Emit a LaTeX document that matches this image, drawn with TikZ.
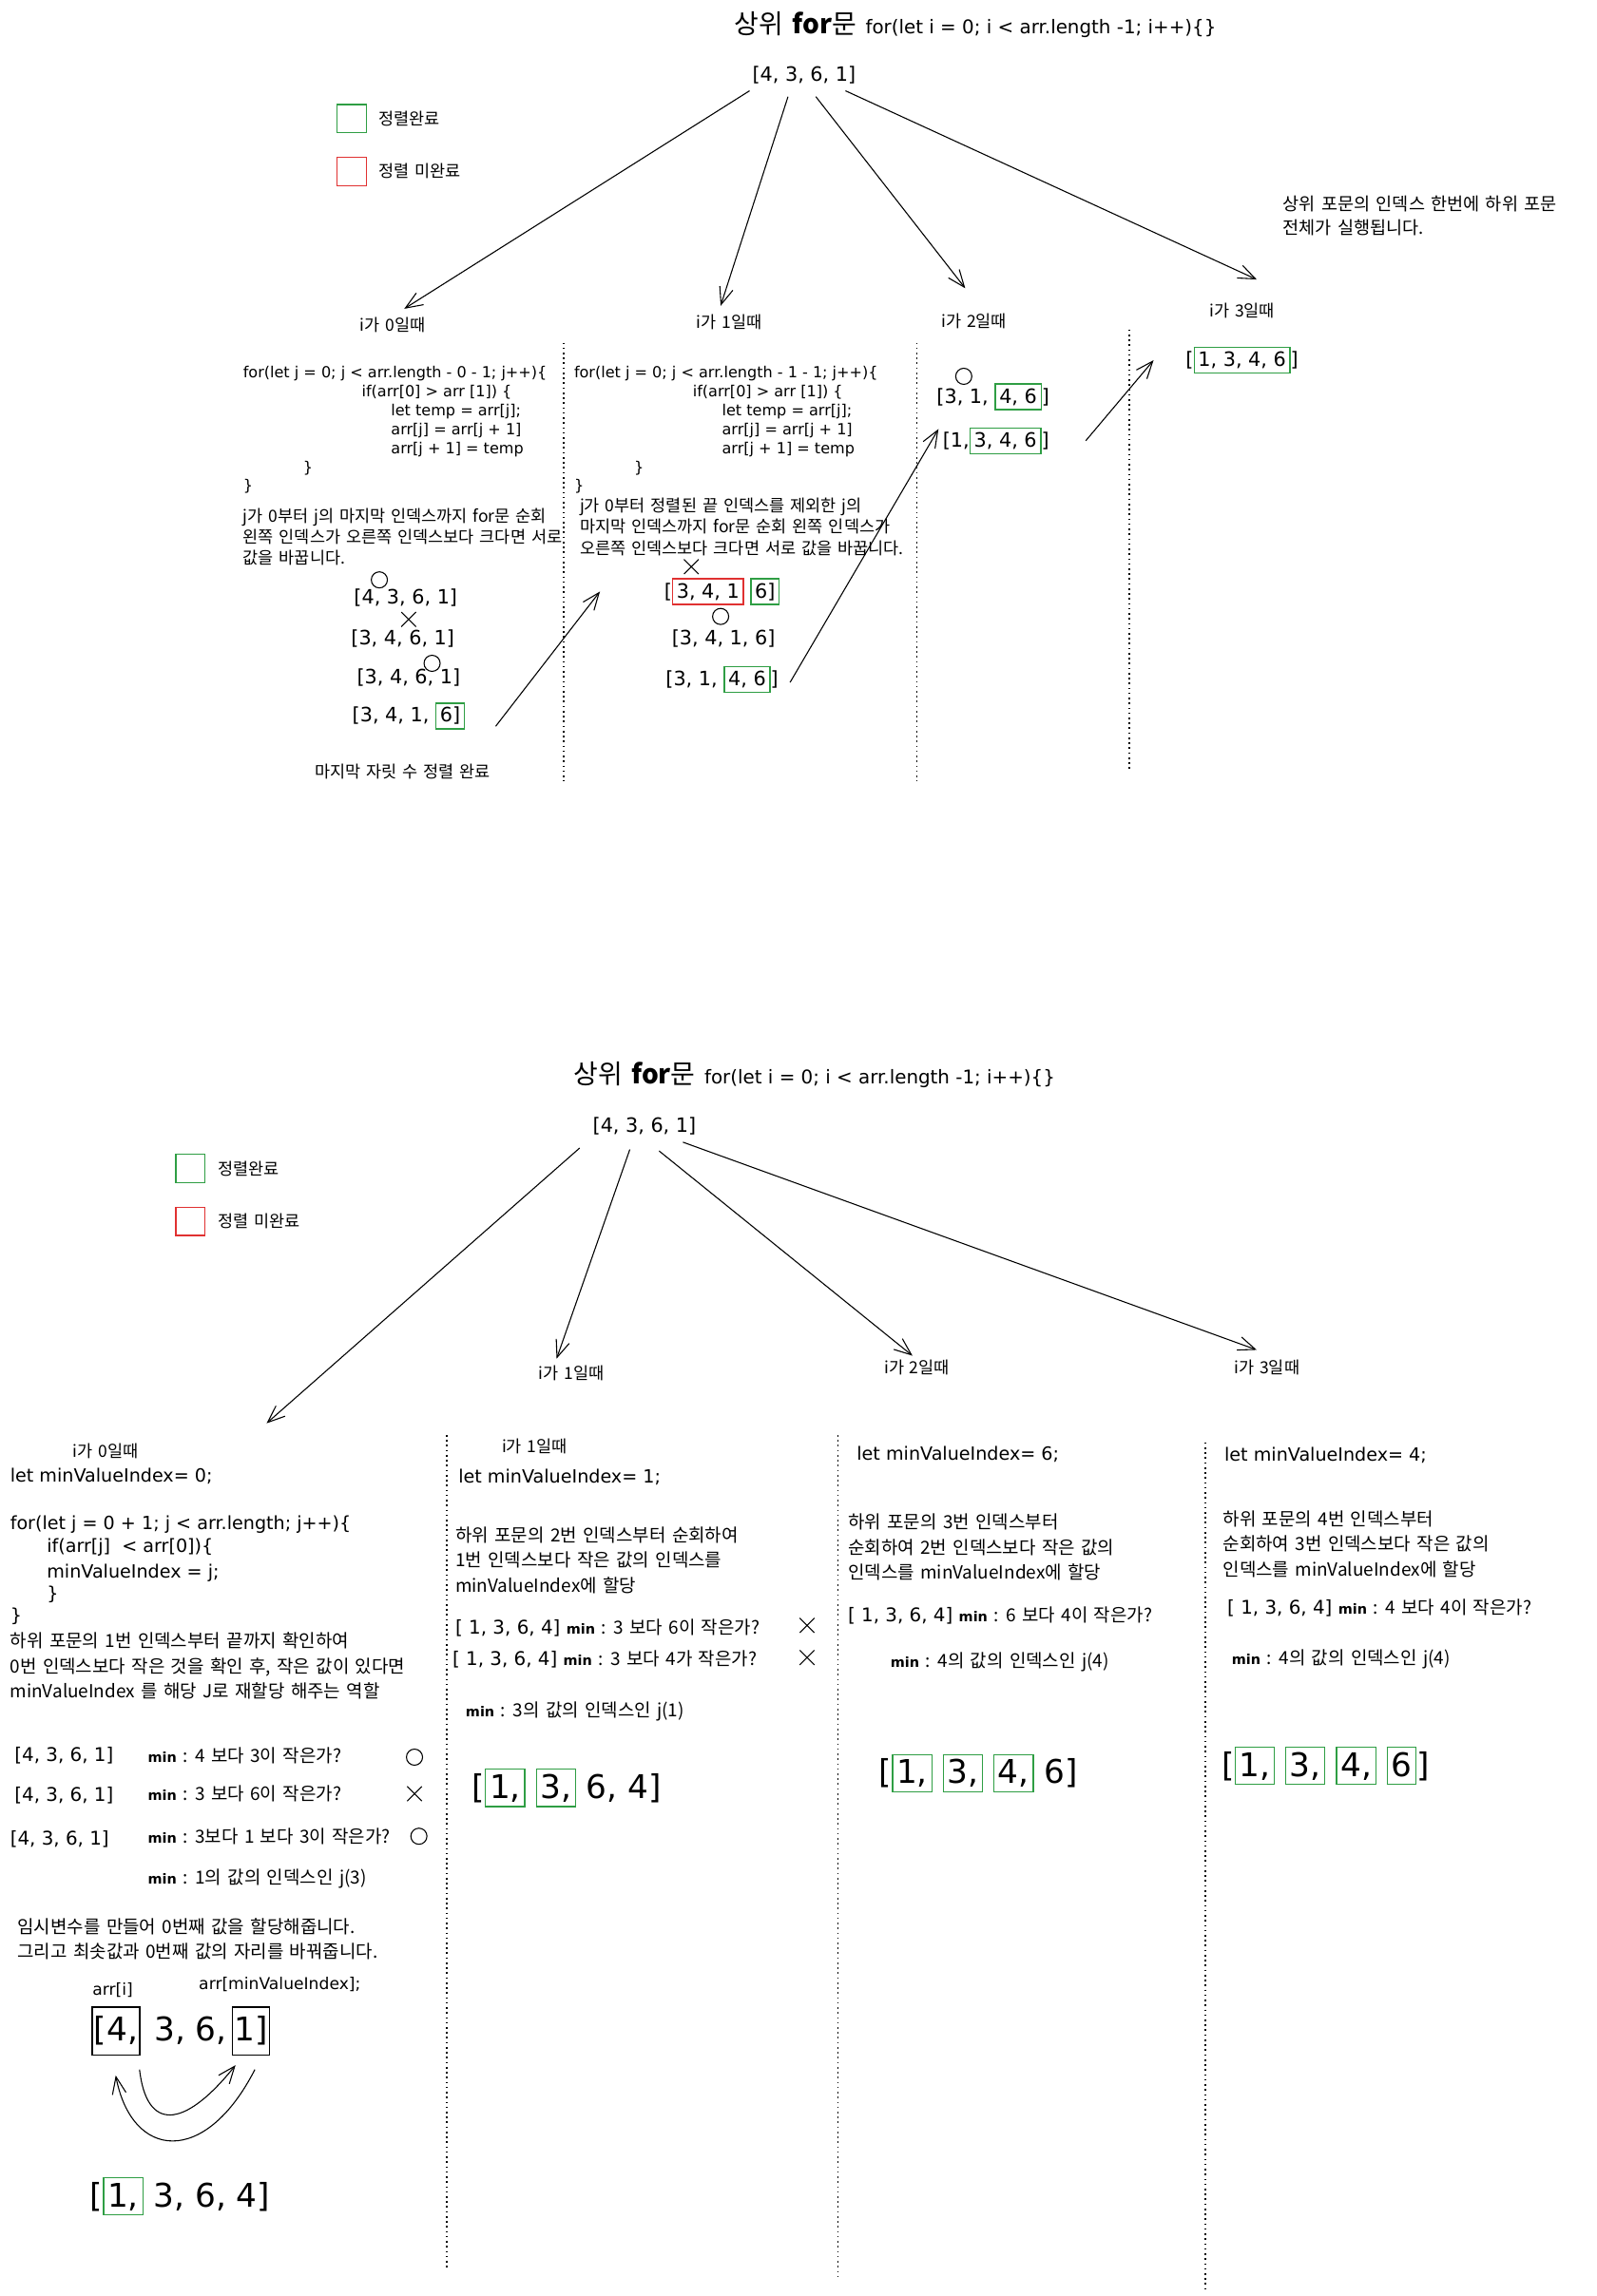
\documentclass[tikz,border=0pt]{standalone}
\usepackage{fontspec}
\setmainfont{Noto Sans CJK KR}[WordSpace=1.5]
\newfontfamily\srtlatin{DejaVu Sans}
\usetikzlibrary{arrows.meta,positioning,calc,shapes.misc}
\definecolor{srtgreen}{HTML}{2F9E44}
\definecolor{srtred}{HTML}{E03131}
\newcommand{\srttopfont}{\linespread{1}\fontsize{9.7}{12.4}\selectfont}
\newcommand{\srtbotfont}{\linespread{1}\fontsize{10.5}{14.5}\selectfont}
\newcommand{\srtcodefont}{\srtlatin\fontsize{8.9}{11}\selectfont}
\newcommand{\srtletfont}{\srtlatin\fontsize{10.6}{13}\selectfont}
\newcommand{\srtarrfont}{\srtlatin\fontsize{11.5}{13}\selectfont}
\newcommand{\srtrowfont}{\srtlatin\fontsize{11}{13}\selectfont}
\newcommand{\srtbigfont}{\srtlatin\fontsize{19}{22}\selectfont}
\newcommand{\srtminfont}{\srtlatin\bfseries\fontsize{8}{10}\selectfont}
\newcommand{\srtttlfont}{\fontsize{15.5}{18}\selectfont}
\newcommand{\srtttlcode}{\srtlatin\fontsize{11}{13}\selectfont}
\setlength{\fboxsep}{2pt}
\setlength{\fboxrule}{0.7pt}
\newcommand{\okbx}[1]{{\color{srtgreen}\fbox{\color{black}\vphantom{[]}#1}}}
\newcommand{\nobx}[1]{{\color{srtred}\fbox{\color{black}\vphantom{[]}#1}}}
\newcommand{\srtmin}{{\srtminfont min}}
\tikzset{
    srt/chart/.style={x=0.03cm, y=-0.03cm, every node/.style={inner sep=0pt, outer sep=0pt}},
    srt/title/.style={font=\srtttlfont},
    srt/lbl/.style={font=\srttopfont},
    srt/top/.style={font=\srttopfont, anchor=west},
    srt/bot/.style={font=\srtbotfont, anchor=west},
    srt/code/.style={font=\srtcodefont, anchor=west},
    srt/let/.style={font=\srtletfont, anchor=west},
    srt/arr/.style={font=\srtarrfont},
    srt/row/.style={font=\srtrowfont, anchor=west},
    srt/big/.style={font=\srtbigfont},
    srt/para/.style={anchor=north west, align=left},
    srt/okbox/.style={rectangle, draw=srtgreen, line width=0.7pt, minimum width=0.6cm, minimum height=0.58cm},
    srt/nobox/.style={srt/okbox, draw=srtred},
    srt/swapbox/.style={rectangle, draw=black, line width=0.8pt, inner sep=1pt, minimum height=0.98cm},
    srt/hit/.style={circle, draw, line width=0.6pt, minimum size=0.33cm},
    srt/miss/.style={cross out, draw, line width=0.6pt, minimum size=0.3cm},
    srt/arrow/.style={-{Straight Barb[length=10pt,width=8pt]}, line width=0.6pt},
    srt/divider/.style={dotted, line width=0.9pt}
}
\begin{document}
\begin{tikzpicture}[srt/chart]
    \useasboundingbox (0,0) rectangle (1090,1568);
    % ---------- bubble sort ----------
    \node[srt/title] (ttl) at (666,17) {상위 \textbf{for}문 \srtttlcode for(let i = 0; i < arr.length -1; i++)\{\}};
    \node[srt/arr] (top0) at (549,51) {[4, 3, 6, 1]};
    \node[srt/okbox] (lgok) at (240,81) {};
    \node[srt/top, right=0.26cm of lgok] (lgoktxt) {정렬완료};
    \node[srt/nobox] (lgno) at (240,117) {};
    \node[srt/top, right=0.26cm of lgno] (lgnotxt) {정렬 미완료};
    \node[srt/lbl] (lbl0) at (268,222) {i가 0일때};
    \node[srt/lbl] (lbl1) at (498,220) {i가 1일때};
    \node[srt/lbl] (lbl2) at (665,219) {i가 2일때};
    \node[srt/lbl] (lbl3) at (848,212) {i가 3일때};
    \node[srt/top, srt/para, font=\linespread{1}\fontsize{10.3}{13.7}\selectfont] (note) at (876,134) {상위 포문의 인덱스 한번에 하위 포문\\전체가 실행됩니다.};
    \draw[srt/arrow] ($(top0.south west)+(-2,5)$) -- ($(lbl0.north)+(8,-6)$);
    \draw[srt/arrow] ($(top0.south)+(-11,9)$) -- ($(lbl1.north)+(-6,-6)$);
    \draw[srt/arrow] ($(top0.south)+(8,9)$) -- ($(lbl2.north)+(-6,-17)$);
    \draw[srt/arrow] ($(top0.south east)+(-7,5)$) -- ($(lbl3.north)+(10,-16)$);
    \foreach \x/\ya/\yb in {385/234/533, 626/234/533, 771/225/525}
        \draw[srt/divider] (\x,\ya) -- (\x,\yb);
    % i = 0
    \node[srt/code] (c0a) at (166,255) {for(let j = 0; j < arr.length - 0 - 1; j++)\{};
    \node[srt/code] (c0b) at (247,268) {if(arr[0] > arr [1]) \{};
    \node[srt/code] (c0c) at (267,281) {let temp = arr[j];};
    \node[srt/code] (c0d) at (267,294) {arr[j] = arr[j + 1]};
    \node[srt/code] (c0e) at (267,307) {arr[j + 1] = temp};
    \node[srt/code] (c0f) at (207,320) {\}};
    \node[srt/code] (c0g) at (166,332) {\}};
    \node[srt/top, srt/para] (d0) at (166,347) {j가 0부터 j의 마지막 인덱스까지 for문 순회\\왼쪽 인덱스가 오른쪽 인덱스보다 크다면 서로\\값을 바꿉니다.};
    \node[srt/hit] (o01) at (259,396) {};
    \node[srt/arr] (r01) at (277,408) {[4, 3, 6, 1]};
    \node[srt/miss] (x01) at (279,423) {};
    \node[srt/arr] (r02) at (275,436) {[3, 4, 6, 1]};
    \node[srt/hit] (o02) at (295,453) {};
    \node[srt/arr] (r03) at (279,463) {[3, 4, 6, 1]};
    \node[srt/arr] (r04) at (279,489) {[3, 4, 1, \okbx{6]}};
    \node[srt/lbl] (cap0) at (275,527) {마지막 자릿 수 정렬 완료};
    % i = 1
    \node[srt/code] (c1a) at (392,255) {for(let j = 0; j < arr.length - 1 - 1; j++)\{};
    \node[srt/code] (c1b) at (473,268) {if(arr[0] > arr [1]) \{};
    \node[srt/code] (c1c) at (493,281) {let temp = arr[j];};
    \node[srt/code] (c1d) at (493,294) {arr[j] = arr[j + 1]};
    \node[srt/code] (c1e) at (493,307) {arr[j + 1] = temp};
    \node[srt/code] (c1f) at (433,320) {\}};
    \node[srt/code] (c1g) at (392,332) {\}};
    \node[srt/top, srt/para] (d1) at (396,340) {j가 0부터 정렬된 끝 인덱스를 제외한 j의\\마지막 인덱스까지 for문 순회 왼쪽 인덱스가\\오른쪽 인덱스보다 크다면 서로 값을 바꿉니다.};
    \node[srt/miss] (x11) at (472,387) {};
    \node[srt/arr] (r11) at (493,404) {[\nobx{3, 4, 1} \okbx{6]}};
    \node[srt/hit] (o11) at (492,421) {};
    \node[srt/arr] (r12) at (494,436) {[3, 4, 1, 6]};
    \node[srt/arr] (r13) at (493,464) {[3, 1, \okbx{4, 6}]};
    % i = 2, 3
    \node[srt/hit] (o21) at (658,257) {};
    \node[srt/arr] (r21) at (678,271) {[3, 1, \okbx{4, 6}]};
    \node[srt/arr] (r22) at (680,301) {[1,\okbx{3, 4, 6}]};
    \node[srt/arr] (r31) at (848,246) {[\okbx{1, 3, 4, 6}]};
    \draw[srt/arrow] ($(r04.east)+(21,7)$) -- ($(r11.west)+(-44,0)$);
    \draw[srt/arrow] ($(r13.east)+(8,2)$) -- ($(r22.west)+(-3,-8)$);
    \draw[srt/arrow] ($(r22.east)+(25,0)$) -- ($(r31.west)+(-22,0)$);
    % ---------- selection sort ----------
    \node[srt/title] (ttlb) at (556,734) {상위 \textbf{for}문 \srtttlcode for(let i = 0; i < arr.length -1; i++)\{\}};
    \node[srt/arr] (topb) at (440,769) {[4, 3, 6, 1]};
    \node[srt/okbox] (lgokb) at (130,798) {};
    \node[srt/top, right=0.26cm of lgokb] (lgokbtxt) {정렬완료};
    \node[srt/nobox] (lgnob) at (130,834) {};
    \node[srt/top, right=0.26cm of lgnob] (lgnobtxt) {정렬 미완료};
    \node[srt/lbl] (lbb1) at (390,938) {i가 1일때};
    \node[srt/lbl] (lbb2) at (626,934) {i가 2일때};
    \node[srt/lbl] (lbb3) at (865,934) {i가 3일때};
    \coordinate (b0end) at (182,972);
    \draw[srt/arrow] ($(topb.south west)+(-9,9)$) -- (b0end);
    \draw[srt/arrow] ($(topb.south)+(-10,10)$) -- ($(lbb1.north)+(-10,-5)$);
    \draw[srt/arrow] ($(topb.south)+(10,11)$) -- ($(lbb2.north)+(-3,-3)$);
    \draw[srt/arrow] ($(topb.south east)+(-9,5)$) -- ($(lbb3.north)+(-7,-7)$);
    \foreach \x/\ya/\yb in {305/980/1550, 572/980/1555, 823/985/1565}
        \draw[srt/divider] (\x,\ya) -- (\x,\yb);
    % i = 0
    \node[srt/lbl] (lbb0) at (72,991) {i가 0일때};
    \node[srt/let] (e0a) at (7,1008) {let minValueIndex= 0;};
    \node[srt/let] (e0b) at (7,1041) {for(let j = 0 + 1; j < arr.length; j++)\{};
    \node[srt/let] (e0c) at (32,1057) {if(arr[j]~~< arr[0])\{};
    \node[srt/let] (e0d) at (32,1074) {minValueIndex = j;};
    \node[srt/let] (e0e) at (32,1089) {\}};
    \node[srt/let] (e0f) at (7,1104) {\}};
    \node[srt/bot, srt/para] (p0) at (7,1115) {하위 포문의 1번 인덱스부터 끝까지 확인하여\\0번 인덱스보다 작은 것을 확인 후, 작은 값이 있다면\\minValueIndex 를 해당 J로 재할당 해주는 역할};
    \node[srt/row] (q01) at (10,1199) {[4, 3, 6, 1]};
    \node[srt/bot] (m01) at (101,1199) {\srtmin{} : 4 보다 3이 작은가?};
    \node[srt/hit] (o31) at (283,1200) {};
    \node[srt/row] (q02) at (10,1226) {[4, 3, 6, 1]};
    \node[srt/bot] (m02) at (101,1225) {\srtmin{} : 3 보다 6이 작은가?};
    \node[srt/miss] (x31) at (283,1225) {};
    \node[srt/row] (q03) at (7,1256) {[4, 3, 6, 1]};
    \node[srt/bot] (m03) at (101,1254) {\srtmin{} : 3보다 1 보다 3이 작은가?};
    \node[srt/hit] (o32) at (286,1254) {};
    \node[srt/bot] (m04) at (101,1283) {\srtmin{} : 1의 값의 인덱스인 j(3)};
    \node[srt/bot, srt/para] (p1) at (12,1310) {임시변수를 만들어 0번째 값을 할당해줍니다.\\그리고 최솟값과 0번째 값의 자리를 바꿔줍니다.};
    \node[srt/code, font=\srtlatin\fontsize{9.5}{11}\selectfont, anchor=center] (lai) at (77,1359) {arr[i]};
    \node[srt/code, font=\srtlatin\fontsize{9.5}{11}\selectfont, anchor=center] (lmin) at (191,1355) {arr[minValueIndex];};
    \node[srt/big, srt/swapbox, anchor=west] (sw4) at (63,1387) {[4,};
    \node[srt/big, base right=0.3cm of sw4] (sw36) {3, 6,};
    \node[srt/big, srt/swapbox, base right=0.12cm of sw36] (sw1) {1]};
    \draw[srt/arrow] ($(sw4.south east)+(0,10)$) .. controls (100,1455) and (125,1455) .. ($(sw1.south west)+(2,7)$);
    \draw[srt/arrow] ($(sw1.south east)+(-10,10)$) .. controls (140,1480) and (90,1475) .. ($(sw4.south west)+(16,14)$);
    \node[srt/big] (res0) at (123,1500) {[\okbx{1,} 3, 6, 4]};
    % i = 1
    \node[srt/lbl] (lbb1b) at (365,988) {i가 1일때};
    \node[srt/let] (e1a) at (313,1009) {let minValueIndex= 1;};
    \node[srt/bot, srt/para] (p2) at (311,1043) {하위 포문의 2번 인덱스부터 순회하여\\1번 인덱스보다 작은 값의 인덱스를\\minValueIndex에 할당};
    \node[srt/bot] (m11) at (311,1112) {{\srtrowfont [ 1, 3, 6, 4]} \srtmin{} : 3 보다 6이 작은가?};
    \node[srt/miss] (x11b) at (551,1110) {};
    \node[srt/bot] (m12) at (309,1133) {{\srtrowfont [ 1, 3, 6, 4]} \srtmin{} : 3 보다 4가 작은가?};
    \node[srt/miss] (x12b) at (551,1132) {};
    \node[srt/bot] (m13) at (318,1169) {\srtmin{} : 3의 값의 인덱스인 j(1)};
    \node[srt/big] (res1) at (387,1221) {[\okbx{1,} \okbx{3,} 6, 4]};
    % i = 2
    \node[srt/let] (e2a) at (585,993) {let minValueIndex= 6;};
    \node[srt/bot, srt/para] (p3) at (579,1034) {하위 포문의 3번 인덱스부터\\순회하여 2번 인덱스보다 작은 값의\\인덱스를 minValueIndex에 할당};
    \node[srt/bot] (m21) at (579,1103) {{\srtrowfont [ 1, 3, 6, 4]} \srtmin{} : 6 보다 4이 작은가?};
    \node[srt/bot] (m22) at (608,1135) {\srtmin{} : 4의 값의 인덱스인 j(4)};
    \node[srt/big] (res2) at (668,1211) {[\okbx{1,} \okbx{3,} \okbx{4,} 6]};
    % i = 3
    \node[srt/let] (e3a) at (836,994) {let minValueIndex= 4;};
    \node[srt/bot, srt/para] (p4) at (835,1032) {하위 포문의 4번 인덱스부터\\순회하여 3번 인덱스보다 작은 값의\\인덱스를 minValueIndex에 할당};
    \node[srt/bot] (m31) at (838,1098) {{\srtrowfont [ 1, 3, 6, 4]} \srtmin{} : 4 보다 4이 작은가?};
    \node[srt/bot] (m32) at (841,1133) {\srtmin{} : 4의 값의 인덱스인 j(4)};
    \node[srt/big] (res3) at (905,1206) {[\okbx{1,} \okbx{3,} \okbx{4,} \okbx{6}]};
\end{tikzpicture}
\end{document}
